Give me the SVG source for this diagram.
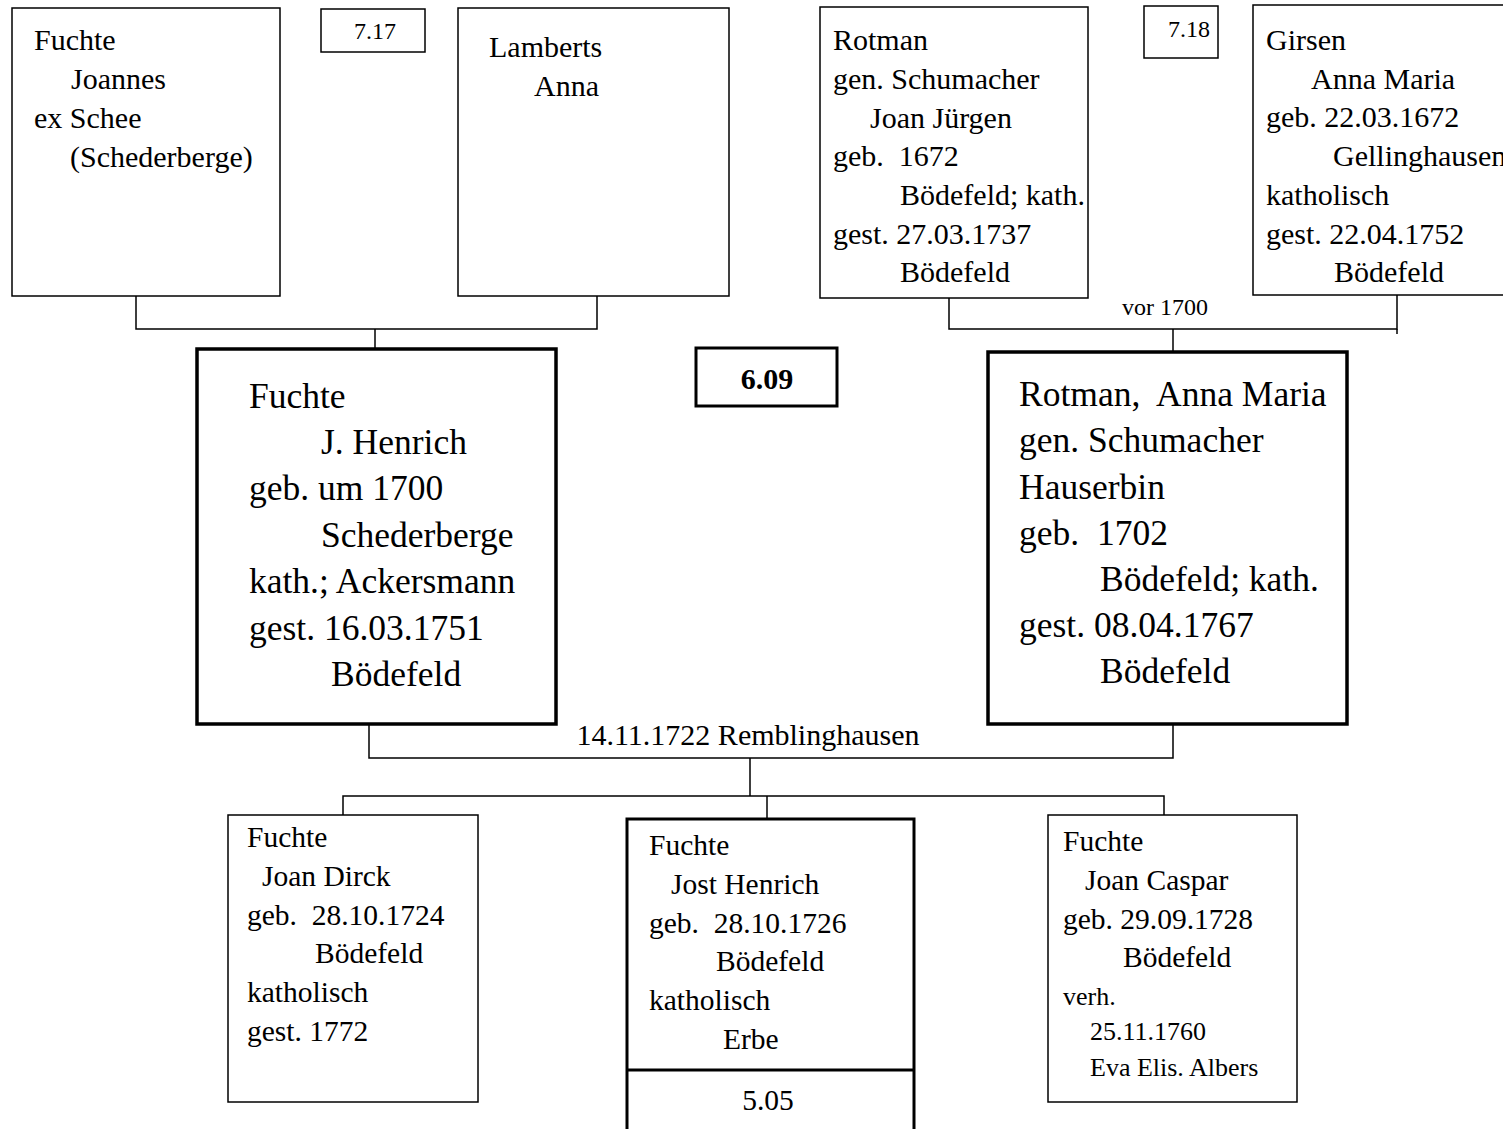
<svg xmlns="http://www.w3.org/2000/svg" width="1503" height="1129" viewBox="0 0 1503 1129">
  <style>
    text { font-family: "Liberation Serif", "Times New Roman", serif; fill: #000; white-space: pre; }
    .s { font-size: 30px; }
    .c { font-size: 29.5px; }
    .l { font-size: 35.5px; }
    .t { font-size: 24px; }
    .v { font-size: 26px; }
    .b { font-size: 30px; font-weight: bold; }
    .box { fill: #fff; stroke: #000; stroke-width: 1.5; }
    .thick { fill: #fff; stroke: #000; stroke-width: 3.5; }
    .mid { fill: #fff; stroke: #000; stroke-width: 3; }
    .conn { fill: none; stroke: #000; stroke-width: 1.5; }
  </style>
  <rect width="1503" height="1129" fill="#fff"/>

  <!-- connectors -->
  <g id="connectors">
    <polyline class="conn" points="136,296 136,329 597,329 597,296"/>
    <line class="conn" x1="375" y1="329" x2="375" y2="349"/>
    <polyline class="conn" points="949,298 949,329 1397,329 1397,295"/>
    <line class="conn" x1="1397" y1="329" x2="1397" y2="334"/>
    <line class="conn" x1="1173" y1="329" x2="1173" y2="352"/>
    <polyline class="conn" points="369,724 369,758 1173,758 1173,724"/>
    <line class="conn" x1="750" y1="758" x2="750" y2="796"/>
    <polyline class="conn" points="343,815 343,796 1164,796 1164,815"/>
    <line class="conn" x1="767" y1="796" x2="767" y2="819"/>
    <text class="t" x="1165" y="315" text-anchor="middle">vor 1700</text>
    <text class="s" x="748" y="745" text-anchor="middle">14.11.1722 Remblinghausen</text>
  </g>

  <!-- generation 7 -->
  <g id="fuchte-joannes">
    <rect class="box" x="12" y="8" width="268" height="288"/>
    <text class="s" x="34" y="50">Fuchte</text>
    <text class="s" x="71" y="89">Joannes</text>
    <text class="s" x="34" y="128">ex Schee</text>
    <text class="s" x="70" y="167">(Schederberge)</text>
  </g>
  <g id="ref-717">
    <rect class="box" x="321" y="9" width="104" height="43"/>
    <text class="t" x="375" y="39" text-anchor="middle">7.17</text>
  </g>
  <g id="lamberts-anna">
    <rect class="box" x="458" y="8" width="271" height="288"/>
    <text class="s" x="489" y="57">Lamberts</text>
    <text class="s" x="534" y="96">Anna</text>
  </g>
  <g id="rotman-joan-juergen">
    <rect class="box" x="820" y="7" width="268" height="291"/>
    <text class="s" x="833" y="50">Rotman</text>
    <text class="s" x="833" y="89">gen. Schumacher</text>
    <text class="s" x="870" y="128">Joan Jürgen</text>
    <text class="s" x="833" y="166">geb.  1672</text>
    <text class="s" x="900" y="205">Bödefeld; kath.</text>
    <text class="s" x="833" y="244">gest. 27.03.1737</text>
    <text class="s" x="900" y="282">Bödefeld</text>
  </g>
  <g id="ref-718">
    <rect class="box" x="1144" y="6" width="74" height="52"/>
    <text class="t" x="1168" y="37">7.18</text>
  </g>
  <g id="girsen-anna-maria">
    <rect class="box" x="1253" y="5" width="260" height="290"/>
    <text class="s" x="1266" y="50">Girsen</text>
    <text class="s" x="1311" y="89">Anna Maria</text>
    <text class="s" x="1266" y="127">geb. 22.03.1672</text>
    <text class="s" x="1333" y="166">Gellinghausen</text>
    <text class="s" x="1266" y="205">katholisch</text>
    <text class="s" x="1266" y="244">gest. 22.04.1752</text>
    <text class="s" x="1334" y="282">Bödefeld</text>
  </g>

  <!-- generation 6 -->
  <g id="fuchte-j-henrich">
    <rect class="thick" x="197" y="349" width="359" height="375"/>
    <text class="l" x="249" y="408">Fuchte</text>
    <text class="l" x="321" y="454">J. Henrich</text>
    <text class="l" x="249" y="500">geb. um 1700</text>
    <text class="l" x="321" y="547">Schederberge</text>
    <text class="l" x="249" y="593">kath.; Ackersmann</text>
    <text class="l" x="249" y="640">gest. 16.03.1751</text>
    <text class="l" x="331" y="686">Bödefeld</text>
  </g>
  <g id="ref-609">
    <rect class="mid" x="696" y="348" width="141" height="58"/>
    <text class="b" x="767" y="389" text-anchor="middle">6.09</text>
  </g>
  <g id="rotman-anna-maria">
    <rect class="thick" x="988" y="352" width="359" height="372"/>
    <text class="l" x="1019" y="406">Rotman,  Anna Maria</text>
    <text class="l" x="1019" y="452">gen. Schumacher</text>
    <text class="l" x="1019" y="499">Hauserbin</text>
    <text class="l" x="1019" y="545">geb.  1702</text>
    <text class="l" x="1100" y="591">Bödefeld; kath.</text>
    <text class="l" x="1019" y="637">gest. 08.04.1767</text>
    <text class="l" x="1100" y="683">Bödefeld</text>
  </g>

  <!-- generation 5 -->
  <g id="fuchte-joan-dirck">
    <rect class="box" x="228" y="815" width="250" height="287"/>
    <text class="c" x="247" y="847">Fuchte</text>
    <text class="c" x="262" y="886">Joan Dirck</text>
    <text class="c" x="247" y="925">geb.  28.10.1724</text>
    <text class="c" x="315" y="963">Bödefeld</text>
    <text class="c" x="247" y="1002">katholisch</text>
    <text class="c" x="247" y="1041">gest. 1772</text>
  </g>
  <g id="fuchte-jost-henrich">
    <rect class="mid" x="627" y="819" width="287" height="330"/>
    <line x1="627" y1="1070" x2="914" y2="1070" stroke="#000" stroke-width="3"/>
    <text class="c" x="649" y="855">Fuchte</text>
    <text class="c" x="671" y="894">Jost Henrich</text>
    <text class="c" x="649" y="933">geb.  28.10.1726</text>
    <text class="c" x="716" y="971">Bödefeld</text>
    <text class="c" x="649" y="1010">katholisch</text>
    <text class="c" x="723" y="1049">Erbe</text>
    <text class="c" x="768" y="1110" text-anchor="middle">5.05</text>
  </g>
  <g id="fuchte-joan-caspar">
    <rect class="box" x="1048" y="815" width="249" height="287"/>
    <text class="c" x="1063" y="851">Fuchte</text>
    <text class="c" x="1085" y="890">Joan Caspar</text>
    <text class="c" x="1063" y="929">geb. 29.09.1728</text>
    <text class="c" x="1123" y="967">Bödefeld</text>
    <text class="v" x="1063" y="1005">verh.</text>
    <text class="v" x="1090" y="1040">25.11.1760</text>
    <text class="v" x="1090" y="1076">Eva Elis. Albers</text>
  </g>
</svg>
